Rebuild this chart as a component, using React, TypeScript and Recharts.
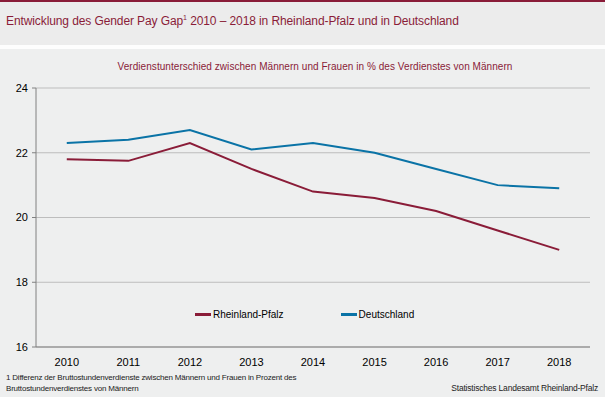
import { LineChart, Line, XAxis, YAxis, CartesianGrid, Legend } from 'recharts'

const years = ['2010', '2011', '2012', '2013', '2014', '2015', '2016', '2017', '2018']
const rheinlandPfalz = [21.8, 21.75, 22.3, 21.5, 20.8, 20.6, 20.2, 19.6, 19.0]
const deutschland = [22.3, 22.4, 22.7, 22.1, 22.3, 22.0, 21.5, 21.0, 20.9]
const yTicks = [16, 18, 20, 22, 24]
// band boundaries for the small tick marks between the years
const bandEdges = [0, 1, 2, 3, 4, 5, 6, 7, 8, 9]
const legendOrder = ['rlp', 'de']

const data = years.map((year, i) => ({
	year,
	rlp: rheinlandPfalz[i],
	de: deutschland[i],
}))

const RED = '#8a1c38'
const BLUE = '#0a73a6'
const font = "'Liberation Sans', Arial, sans-serif"

function LegendBox(props: any) {
	const items = props.payload || []
	return (
		<div style={{ display: 'flex', fontFamily: font, fontSize: 10, color: '#000' }}>
			{items.map((it: any, i: number) => (
				<div key={it.value} style={{ display: 'flex', alignItems: 'center', marginRight: i === 0 ? 57 : 0 }}>
					<span style={{ display: 'inline-block', width: 16, height: 3, background: it.color, marginRight: 2 }} />
					<span>{it.value}</span>
				</div>
			))}
		</div>
	)
}

export default function App() {
	return (
		<div
			style={{
				position: 'absolute',
				left: 0,
				top: 0,
				width: 605,
				height: 397,
				background: '#eeefef',
				fontFamily: font,
				overflow: 'hidden',
			}}
		>
			<div style={{ position: 'absolute', left: 0, top: 0, width: 605, height: 45, background: '#ececec' }} />
			<div style={{ position: 'absolute', left: 0, top: 0, width: 605, height: 2, background: RED }} />
			<div style={{ position: 'absolute', left: 0, top: 45, width: 605, height: 4, background: '#fdfdfd' }} />
			<div style={{ position: 'absolute', left: 6, top: 14, fontSize: 12, color: RED, whiteSpace: 'nowrap', letterSpacing: -0.1 }}>
				Entwicklung des Gender Pay Gap<sup style={{ fontSize: 7 }}>1</sup> 2010 – 2018 in Rheinland-Pfalz und in Deutschland
			</div>
			<div style={{ position: 'absolute', left: 0, width: 605, top: 61, textAlign: 'center', fontSize: 10, color: RED, whiteSpace: 'nowrap', paddingLeft: 25, boxSizing: 'border-box', letterSpacing: 0.05 }}>
				Verdienstunterschied zwischen Männern und Frauen in % des Verdienstes von Männern
			</div>
			<LineChart
				width={605}
				height={397}
				data={data}
				margin={{ top: 88, right: 15, bottom: 30, left: 0 }}
				style={{ position: 'absolute', left: 0, top: 0 }}
			>
				<CartesianGrid vertical={false} stroke='#bdbdbd' strokeWidth={1} />
				<XAxis
					xAxisId='edges'
					type='number'
					domain={[0, 9]}
					ticks={bandEdges}
					height={0}
					axisLine={false}
					tick={false}
					tickLine={{ stroke: '#808080' }}
					tickSize={4}
				/>
				<XAxis
					dataKey='year'
					scale='band'
					height={20}
					stroke='#808080'
					tickLine={false}
					interval={0}
					tick={{ fill: '#000', fontSize: 11, fontFamily: font, dy: 3 }}
				/>
				<YAxis
					domain={[16, 24]}
					ticks={yTicks}
					width={36}
					stroke='#808080'
					tickSize={4}
					tick={{ fill: '#000', fontSize: 11, fontFamily: font, dx: -2 }}
				/>
				<Legend
					layout='horizontal'
					verticalAlign='middle'
					align='center'
					itemSorter={(item: any) => legendOrder.indexOf(item.dataKey)}
					content={<LegendBox />}
					wrapperStyle={{ position: 'absolute', top: 309, left: 195, width: 'auto' }}
				/>
				<Line
					type='linear'
					dataKey='rlp'
					name='Rheinland-Pfalz'
					stroke={RED}
					strokeWidth={2}
					dot={false}
					isAnimationActive={false}
				/>
				<Line
					type='linear'
					dataKey='de'
					name='Deutschland'
					stroke={BLUE}
					strokeWidth={2}
					dot={false}
					isAnimationActive={false}
				/>
			</LineChart>
			<div style={{ position: 'absolute', left: 6, top: 372, fontSize: 8, color: '#222', lineHeight: '11px', letterSpacing: -0.2 }}>
				1 Differenz der Bruttostundenverdienste zwischen Männern und Frauen in Prozent des
				<br />
				Bruttostundenverdienstes von Männern
			</div>
			<div style={{ position: 'absolute', right: 7, top: 383, fontSize: 8.5, color: '#222', letterSpacing: -0.2 }}>
				Statistisches Landesamt Rheinland-Pfalz
			</div>
		</div>
	)
}
